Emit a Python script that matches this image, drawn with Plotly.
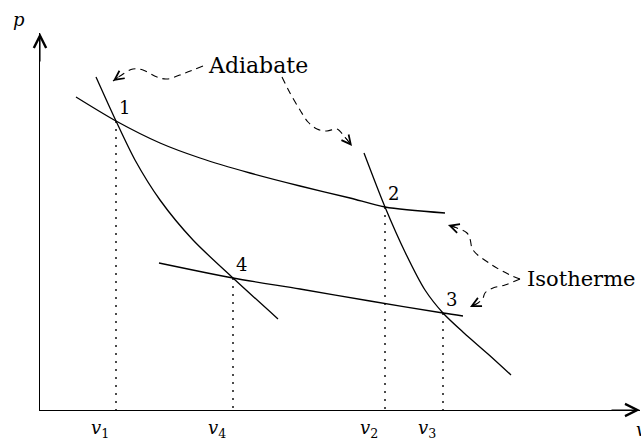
import plotly.graph_objects as go

# ---- data (arbitrary schematic units: v to the right, p upwards) ----
state_names = ["1", "2", "3", "4"]
state_v = [7.6, 34.5, 40.3, 19.3]
state_p = [28.9, 20.3, 9.7, 13.2]
tick_labels = ["<i>v</i><sub>1</sub>", "<i>v</i><sub>2</sub>",
               "<i>v</i><sub>3</sub>", "<i>v</i><sub>4</sub>"]

# upper isotherm (through 1 and 2)
iso_hi_v = [3.6, 7.6, 12.0, 16.0, 21.0, 26.0, 31.0, 34.5, 40.5]
iso_hi_p = [31.3, 28.9, 26.7, 25.2, 23.7, 22.4, 21.2, 20.3, 19.7]
# lower isotherm (through 4 and 3)
iso_lo_v = [11.9, 19.3, 26.0, 33.0, 40.3, 42.3]
iso_lo_p = [14.7, 13.2, 12.1, 10.9, 9.7, 9.4]
# left adiabat (through 1 and 4)
adi_l_v = [5.6, 7.6, 9.5, 12.0, 15.3, 19.3, 23.8]
adi_l_p = [33.3, 28.9, 25.0, 21.0, 17.0, 13.2, 9.1]
# right adiabat (through 2 and 3)
adi_r_v = [32.4, 34.5, 36.5, 38.5, 40.3, 42.4, 44.8, 47.1]
adi_r_p = [25.7, 20.3, 15.8, 12.0, 9.7, 7.7, 5.6, 3.5]

# dashed pointer paths
ptr_a1_v = [16.3, 14.5, 12.7, 11.7, 10.3, 9.3, 8.0, 7.3]
ptr_a1_p = [34.4, 33.7, 33.1, 33.3, 34.0, 34.1, 33.4, 32.9]
ptr_a2_v = [24.2, 25.0, 26.0, 26.8, 27.7, 28.7, 29.7, 30.4, 31.2]
ptr_a2_p = [33.3, 31.7, 30.0, 28.8, 28.1, 27.9, 28.1, 27.4, 26.4]
ptr_i1_v = [48.0, 47.0, 45.2, 43.3, 43.0, 42.7, 41.7, 40.8]
ptr_i1_p = [13.1, 13.5, 14.5, 16.0, 17.1, 17.7, 18.2, 18.5]
ptr_i2_v = [48.0, 46.5, 45.3, 44.5, 44.3, 43.8, 43.0]
ptr_i2_p = [13.1, 12.5, 12.2, 11.7, 11.2, 10.7, 10.3]

V_MAX = 60
P_MAX = 37.7

FONT = "DejaVu Serif"
BLACK = "black"

fig = go.Figure()

for xs, ys in [(iso_hi_v, iso_hi_p), (iso_lo_v, iso_lo_p),
               (adi_l_v, adi_l_p), (adi_r_v, adi_r_p)]:
    fig.add_trace(go.Scatter(x=xs, y=ys, mode="lines", hoverinfo="skip",
                             line=dict(color=BLACK, width=1.3, shape="spline", smoothing=0.8)))

# dotted drop lines
for v, p in zip(state_v, state_p):
    fig.add_trace(go.Scatter(x=[v, v], y=[p, 0], mode="lines", hoverinfo="skip",
                             line=dict(color=BLACK, width=1.4, dash="2px,6px")))

# dashed pointers
ptrs = [(ptr_a1_v, ptr_a1_p), (ptr_a2_v, ptr_a2_p), (ptr_i1_v, ptr_i1_p), (ptr_i2_v, ptr_i2_p)]
for xs, ys in ptrs:
    fig.add_trace(go.Scatter(x=xs, y=ys, mode="lines", hoverinfo="skip",
                             line=dict(color=BLACK, width=1.1, dash="7px,5px",
                                       shape="spline", smoothing=1.0)))
    fig.add_annotation(x=xs[-1], y=ys[-1], ax=xs[-2], ay=ys[-2], axref="x", ayref="y",
                       xref="x", yref="y", showarrow=True, arrowhead=5, arrowsize=1.8,
                       arrowwidth=1.0, arrowcolor=BLACK, standoff=0, text="")

# axis arrowheads
fig.add_annotation(x=0, y=P_MAX, ax=0, ay=P_MAX - 3, axref="x", ayref="y", xref="x", yref="y",
                   showarrow=True, arrowhead=5, arrowsize=2.2, arrowwidth=1.1,
                   arrowcolor=BLACK, standoff=0, text="")
fig.add_annotation(x=V_MAX, y=0, ax=V_MAX - 3, ay=0, axref="x", ayref="y", xref="x", yref="y",
                   showarrow=True, arrowhead=5, arrowsize=2.2, arrowwidth=1.1,
                   arrowcolor=BLACK, standoff=0, text="")

# point labels
for name, v, p in zip(state_names, state_v, state_p):
    fig.add_annotation(x=v, y=p, text=name, showarrow=False, xshift=8, yshift=14,
                       font=dict(family=FONT, size=18, color=BLACK))

# v tick labels
for lab, v in zip(tick_labels, state_v):
    fig.add_annotation(x=v, y=0, text=lab, showarrow=False, xshift=-16, yshift=-19,
                       font=dict(family=FONT, size=18, color=BLACK))

# axis names
fig.add_annotation(x=0, y=P_MAX, text="<i>p</i>", showarrow=False, xshift=-21, yshift=14,
                   font=dict(family=FONT, size=18, color=BLACK))
fig.add_annotation(x=V_MAX, y=0, text="<i>v</i>", showarrow=False, xshift=-6, yshift=-19,
                   xanchor="left", font=dict(family=FONT, size=18, color=BLACK))

# callout texts
fig.add_annotation(x=21.8, y=34.5, text="Adiabate", showarrow=False,
                   font=dict(family=FONT, size=22, color=BLACK))
fig.add_annotation(x=48.5, y=13.1, text="Isotherme", showarrow=False, xanchor="left",
                   font=dict(family=FONT, size=21, color=BLACK))

fig.update_layout(
    width=641, height=440,
    margin=dict(l=40, r=1, t=33, b=30),
    paper_bgcolor="white", plot_bgcolor="white",
    showlegend=False,
)
fig.update_xaxes(range=[0, V_MAX], showgrid=False, zeroline=False, showticklabels=False,
                 ticks="", showline=True, linecolor=BLACK, linewidth=1.3)
fig.update_yaxes(range=[0, P_MAX], showgrid=False, zeroline=False, showticklabels=False,
                 ticks="", showline=True, linecolor=BLACK, linewidth=1.3)

fig.write_html("out.html", config={"displayModeBar": False},
               post_script="document.body.style.margin='0';document.body.style.overflow='hidden';")
